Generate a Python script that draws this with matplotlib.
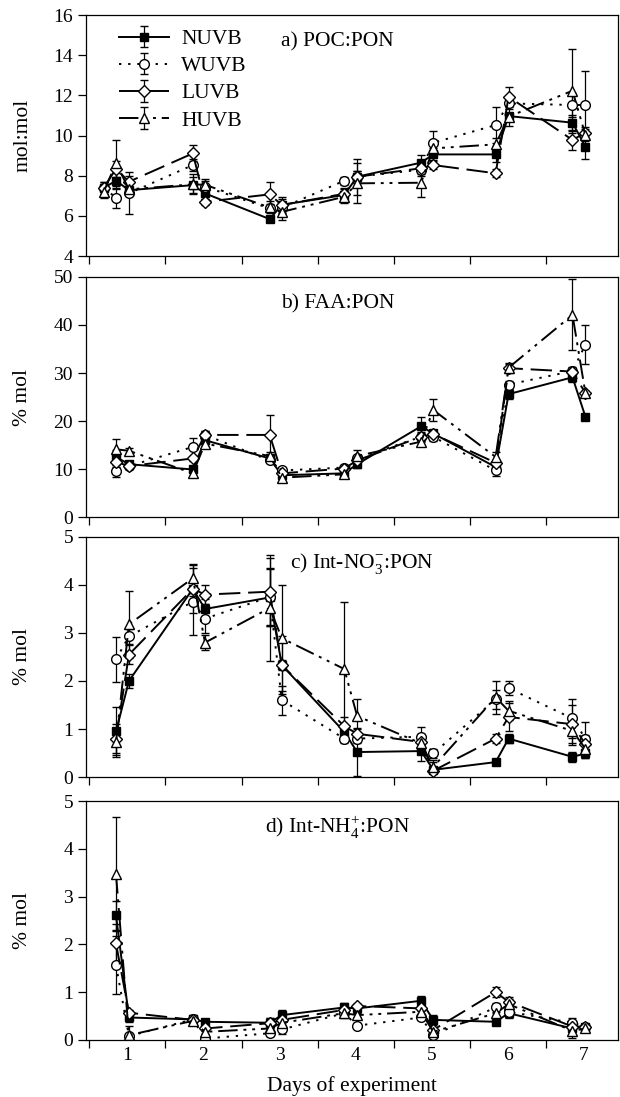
import matplotlib
matplotlib.use('Agg')
import matplotlib.pyplot as plt
import numpy as np

plt.rcParams['font.family'] = ['Liberation Serif', 'DejaVu Serif']
plt.rcParams['mathtext.fontset'] = 'custom'
plt.rcParams['mathtext.rm'] = 'Liberation Serif'
plt.rcParams['font.size'] = 14

# sampling times (days); panel a has one extra sample at the start
days_a = [0.69, 0.85, 1.02, 1.86, 2.02, 2.87, 3.03, 3.85, 4.02, 4.86, 5.02, 5.84, 6.01, 6.85, 7.02]
days = days_a[1:]

treatments = ['NUVB', 'WUVB', 'LUVB', 'HUVB']

# a) POC:PON (mol:mol)
poc_nuvb = [7.4, 7.75, 7.28, 7.53, 7.12, 5.84, 6.55, 7.04, 7.95, 8.65, 9.06, 9.06, 10.97, 10.64, 9.44]
poc_wuvb = [7.4, 6.9, 7.12, 8.53, 7.45, 6.37, 6.4, 7.75, 7.95, 8.3, 9.64, 10.52, 11.6, 11.52, 11.52]
poc_luvb = [7.4, 8.35, 7.7, 9.11, 6.7, 7.07, 6.54, 7.1, 7.95, 8.37, 8.53, 8.12, 11.93, 9.78, 10.14]
poc_huvb = [7.2, 8.63, 7.32, 7.57, 7.55, 6.42, 6.2, 6.95, 7.62, 7.65, 9.36, 9.56, 10.94, 12.23, 10.02]
poc_err_nuvb = [0.3, 0.4, 0.3, 0.4, 0.3, 0.15, 0.4, 0.3, 0.9, 0.4, 0.3, 0.4, 0.5, 0.4, 0.6]
poc_err_wuvb = [0.3, 0.5, 1.05, 0.3, 0.3, 0.2, 0.3, 0.2, 0.3, 0.3, 0.6, 0.9, 0.3, 0.6, 1.7]
poc_err_luvb = [0.2, 0.4, 0.3, 0.4, 0.15, 0.6, 0.3, 0.3, 0.3, 0.3, 0.2, 0.2, 0.5, 0.5, 0.3]
poc_err_huvb = [0.3, 1.15, 0.3, 0.5, 0.3, 0.3, 0.4, 0.3, 1.0, 0.7, 0.3, 0.3, 0.2, 2.1, 0.3]

# b) FAA:PON (% mol)
faa_nuvb = [12.5, 11.0, 9.9, 16.0, 12.2, 8.7, 9.1, 11.0, 18.9, 17.4, 10.4, 25.6, 29.1, 20.9]
faa_wuvb = [9.6, 10.6, 14.6, 17.1, 11.8, 9.7, 10.3, 12.2, 16.7, 16.7, 9.7, 27.6, 30.4, 35.9]
faa_luvb = [11.5, 10.6, 12.2, 17.1, 17.1, 9.1, 10.1, 11.8, 16.7, 17.3, 11.3, 31.0, 30.3, 25.8]
faa_huvb = [14.1, 13.8, 9.1, 15.3, 12.7, 8.2, 8.9, 12.7, 15.7, 22.3, 12.5, 31.1, 42.1, 25.8]
faa_err_nuvb = [1.5, 0.5, 0.8, 0.8, 0.5, 0.5, 0.5, 0.8, 2.0, 0.5, 0.8, 1.0, 1.0, 0.5]
faa_err_wuvb = [1.2, 0.5, 1.8, 0.8, 0.5, 0.8, 0.5, 0.5, 1.0, 0.8, 1.2, 0.8, 0.8, 4.0]
faa_err_luvb = [1.0, 0.5, 0.5, 0.8, 4.2, 0.5, 0.5, 0.5, 0.8, 0.5, 0.5, 0.8, 0.8, 0.5]
faa_err_huvb = [2.1, 0.5, 0.5, 0.5, 0.8, 1.0, 0.5, 1.2, 0.8, 2.2, 1.0, 1.0, 7.4, 0.5]

# c) Int-NO3-:PON (% mol)
no3_nuvb = [0.95, 2.0, 3.92, 3.5, 3.74, 2.33, 0.94, 0.52, 0.54, 0.15, 0.31, 0.8, 0.42, 0.49]
no3_wuvb = [2.45, 2.93, 3.65, 3.3, 3.75, 1.6, 0.8, 0.8, 0.84, 0.49, 1.62, 1.85, 1.22, 0.8]
no3_luvb = [0.8, 2.55, 3.92, 3.8, 3.86, 2.33, 1.06, 0.9, 0.73, 0.13, 0.8, 1.25, 1.1, 0.68]
no3_huvb = [0.72, 3.18, 4.14, 2.8, 3.52, 2.89, 2.25, 1.27, 0.7, 0.21, 1.66, 1.38, 0.96, 0.59]
no3_err_nuvb = [0.5, 0.15, 0.5, 0.2, 0.6, 0.6, 0.15, 0.5, 0.2, 0.2, 0.05, 0.1, 0.1, 0.1]
no3_err_wuvb = [0.47, 0.15, 0.7, 0.3, 0.6, 0.3, 0.1, 0.1, 0.2, 0.1, 0.2, 0.15, 0.4, 0.35]
no3_err_luvb = [0.3, 0.2, 0.15, 0.2, 0.7, 0.1, 0.2, 0.1, 0.15, 0.05, 0.1, 0.3, 0.4, 0.2]
no3_err_huvb = [0.3, 0.7, 0.3, 0.15, 1.1, 1.1, 1.4, 0.35, 0.2, 0.1, 0.35, 0.2, 0.3, 0.2]

# d) Int-NH4+:PON (% mol)
nh4_nuvb = [2.61, 0.47, 0.43, 0.38, 0.36, 0.52, 0.68, 0.66, 0.82, 0.42, 0.38, 0.56, 0.24, 0.28]
nh4_wuvb = [1.57, 0.08, 0.43, 0.03, 0.14, 0.22, 0.56, 0.3, 0.47, 0.1, 0.68, 0.59, 0.36, 0.28]
nh4_luvb = [2.02, 0.57, 0.42, 0.24, 0.35, 0.42, 0.63, 0.71, 0.66, 0.21, 1.0, 0.8, 0.28, 0.28]
nh4_huvb = [3.47, 0.1, 0.4, 0.17, 0.24, 0.36, 0.56, 0.52, 0.59, 0.17, 0.56, 0.75, 0.19, 0.24]
nh4_err_nuvb = [0.3, 0.1, 0.1, 0.05, 0.1, 0.1, 0.1, 0.1, 0.1, 0.1, 0.05, 0.1, 0.05, 0.05]
nh4_err_wuvb = [0.6, 0.05, 0.05, 0.05, 0.05, 0.1, 0.05, 0.05, 0.05, 0.05, 0.1, 0.1, 0.1, 0.05]
nh4_err_luvb = [0.4, 0.05, 0.05, 0.05, 0.1, 0.1, 0.1, 0.05, 0.05, 0.05, 0.1, 0.1, 0.1, 0.05]
nh4_err_huvb = [1.2, 0.2, 0.05, 0.05, 0.15, 0.15, 0.1, 0.05, 0.05, 0.05, 0.1, 0.1, 0.15, 0.05]

panels = [
    (days_a, [poc_nuvb, poc_wuvb, poc_luvb, poc_huvb],
     [poc_err_nuvb, poc_err_wuvb, poc_err_luvb, poc_err_huvb],
     'a) POC:PON', 'mol:mol', (4, 16), np.arange(4, 17, 2), 0.367),
    (days, [faa_nuvb, faa_wuvb, faa_luvb, faa_huvb],
     [faa_err_nuvb, faa_err_wuvb, faa_err_luvb, faa_err_huvb],
     'b) FAA:PON', '% mol', (0, 50), np.arange(0, 51, 10), 0.367),
    (days, [no3_nuvb, no3_wuvb, no3_luvb, no3_huvb],
     [no3_err_nuvb, no3_err_wuvb, no3_err_luvb, no3_err_huvb],
     'c) Int-NO$_3^{-}$:PON', '% mol', (0, 5), np.arange(0, 6, 1), 0.384),
    (days, [nh4_nuvb, nh4_wuvb, nh4_luvb, nh4_huvb],
     [nh4_err_nuvb, nh4_err_wuvb, nh4_err_luvb, nh4_err_huvb],
     'd) Int-NH$_4^{+}$:PON', '% mol', (0, 5), np.arange(0, 6, 1), 0.336),
]

# line / marker style per treatment
styles = [
    dict(ls='-', marker='s', ms=5.5, mfc='black'),
    dict(ls=(0, (1.2, 3.5)), marker='o', ms=7, mfc='white'),
    dict(ls=(0, (11, 4)), marker='D', ms=6, mfc='white'),
    dict(ls=(0, (10, 3, 1.5, 3, 1.5, 3)), marker='^', ms=7, mfc='white'),
]

fig = plt.figure(figsize=(6.2, 10.97), dpi=100)
left, width = 0.138, 0.859
tops = [0.9863, 0.7475, 0.5105, 0.2698]
bottoms = [0.7666, 0.5287, 0.2917, 0.052]
label_size = 15.5

axes = []
for i, (t, series, errs, title, ylab, ylim, yticks, tx) in enumerate(panels):
    ax = fig.add_axes([left, bottoms[i], width, tops[i] - bottoms[i]])
    for name, y, e, st in zip(treatments, series, errs, styles):
        ax.errorbar(t, y, yerr=e, color='black', lw=1.4, ls=st['ls'],
                    marker=st['marker'], ms=st['ms'], mfc=st['mfc'], mec='black',
                    mew=1.0, elinewidth=0.9, capsize=3, capthick=0.9, label=name)
    ax.set_xlim(0.45, 7.45)
    ax.set_ylim(*ylim)
    ax.set_yticks(yticks)
    ax.set_xticks(np.arange(0.5, 7.0, 1.0))
    ax.set_xticklabels([])
    ax.set_xticks(np.arange(1, 8), minor=True)
    ax.tick_params(axis='x', which='minor', length=0, pad=5)
    ax.tick_params(axis='both', which='major', direction='out', length=6, width=0.9, pad=3)
    ax.set_ylabel(ylab, fontsize=label_size)
    ax.yaxis.set_label_coords(-0.100, 0.5)
    ax.text(tx, 0.89, title, transform=ax.transAxes, ha='left', va='center', fontsize=label_size)
    for sp in ax.spines.values():
        sp.set_linewidth(0.9)
    axes.append(ax)

axes[-1].set_xticklabels([str(d) for d in range(1, 8)], minor=True)
axes[-1].set_xlabel('Days of experiment', fontsize=label_size, labelpad=9)

axes[0].legend(loc='upper left', bbox_to_anchor=(0.0625, 0.942), frameon=False,
               borderpad=0, borderaxespad=0, handlelength=2.35, handletextpad=0.55,
               labelspacing=0.33, fontsize=label_size)

fig.savefig('out.png', dpi=100)
